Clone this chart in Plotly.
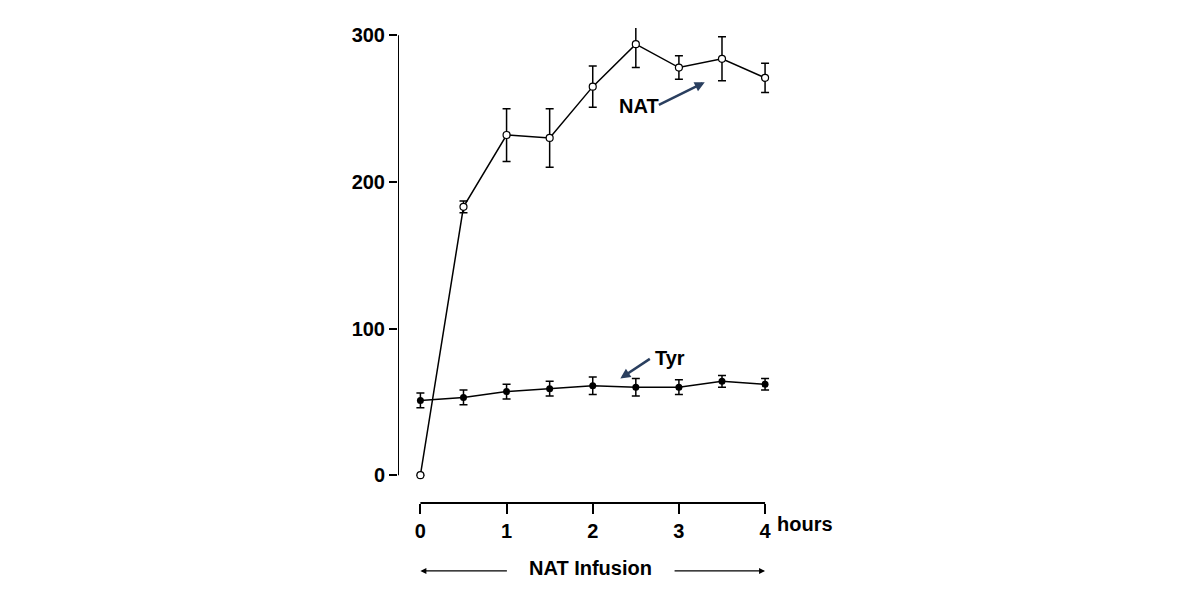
import plotly.graph_objects as go

hours = [0, 0.5, 1, 1.5, 2, 2.5, 3, 3.5, 4]
nat = [0, 183, 232, 230, 265, 294, 278, 284, 271]
nat_err = [0, 4, 18, 20, 14, 16, 8, 15, 10]
tyr = [51, 53, 57, 59, 61, 60, 60, 64, 62]
tyr_err = [5, 5, 5, 5, 6, 6, 5, 4, 4]
y_ticks = [0, 100, 200, 300]
x_ticks = [0, 1, 2, 3, 4]

FONT = "Liberation Sans"
fig = go.Figure()
fig.add_trace(go.Scatter(
    x=hours, y=tyr, mode='lines+markers',
    line=dict(color='black', width=1.5),
    marker=dict(color='black', size=7),
    error_y=dict(type='data', array=tyr_err, color='black', thickness=1.5, width=4)))
fig.add_trace(go.Scatter(
    x=hours, y=nat, mode='lines+markers',
    line=dict(color='black', width=1.5),
    marker=dict(color='white', size=7, line=dict(color='black', width=1.2)),
    error_y=dict(type='data', array=nat_err, color='black', thickness=1.5, width=4)))

# axis lines
fig.add_shape(type='line', xref='x', yref='y', x0=-0.26, x1=-0.26, y0=0, y1=300,
              line=dict(color='black', width=2))
fig.add_shape(type='line', xref='x', yref='paper', x0=0, x1=4, y0=0, y1=0,
              line=dict(color='black', width=2))

fig.add_annotation(x=4.12, y=0, xref='x', yref='paper', text='<b>hours</b>', showarrow=False,
                   xanchor='left', yanchor='top', yshift=-8, font=dict(size=20, family=FONT))
fig.add_annotation(x=-1.05, y=150, xref='x', yref='y', text='<b>µmol/l</b>', textangle=-90,
                   showarrow=False, font=dict(size=20, family=FONT))

# infusion bar
fig.add_annotation(x=1.97, y=-0.165, xref='x', yref='paper', text='<b>NAT Infusion</b>',
                   showarrow=False, font=dict(size=20, family=FONT))
for x_end, tail_px in [(0, 88), (4, -92)]:
    fig.add_annotation(x=x_end, y=-0.143, ax=tail_px, ay=0, xref='x', yref='paper',
                       axref='pixel', ayref='pixel', text='', showarrow=True,
                       arrowhead=2, arrowsize=1, arrowwidth=1.2, arrowcolor='black')

fig.add_annotation(x=3.3, y=268, ax=2.75, ay=252, xref='x', yref='y', axref='x', ayref='y',
                   text='', showarrow=True, arrowhead=2, arrowwidth=2.5, arrowsize=0.8)
fig.add_annotation(x=2.28, y=252, xref='x', yref='y', text='<b>NAT</b>', showarrow=False,
                   xanchor='left', font=dict(size=20, family=FONT))
fig.add_annotation(x=2.32, y=66, ax=2.68, ay=80, xref='x', yref='y', axref='x', ayref='y',
                   text='', showarrow=True, arrowhead=2, arrowwidth=2.5, arrowsize=0.8)
fig.add_annotation(x=2.7, y=80, xref='x', yref='y', text='<b>Tyr</b>', showarrow=False,
                   xanchor='left', font=dict(size=20, family=FONT))

fig.update_layout(
    width=1200, height=600, showlegend=False,
    plot_bgcolor='white', paper_bgcolor='white',
    margin=dict(l=390, r=430, t=20, b=105),
    font=dict(family=FONT, size=20, color='black'),
    xaxis=dict(range=[-0.26, 4.15], tickvals=x_ticks, ticks='outside', ticklen=10,
               tickwidth=2, tickcolor='black', showgrid=False, zeroline=False,
               tickfont=dict(size=20, family=FONT, weight='bold')),
    yaxis=dict(range=[-19, 305], tickvals=y_ticks, ticks='outside', ticklen=8,
               tickwidth=2, tickcolor='black', showgrid=False, zeroline=False,
               tickfont=dict(size=20, family=FONT, weight='bold')))

fig.write_html("out.html")
